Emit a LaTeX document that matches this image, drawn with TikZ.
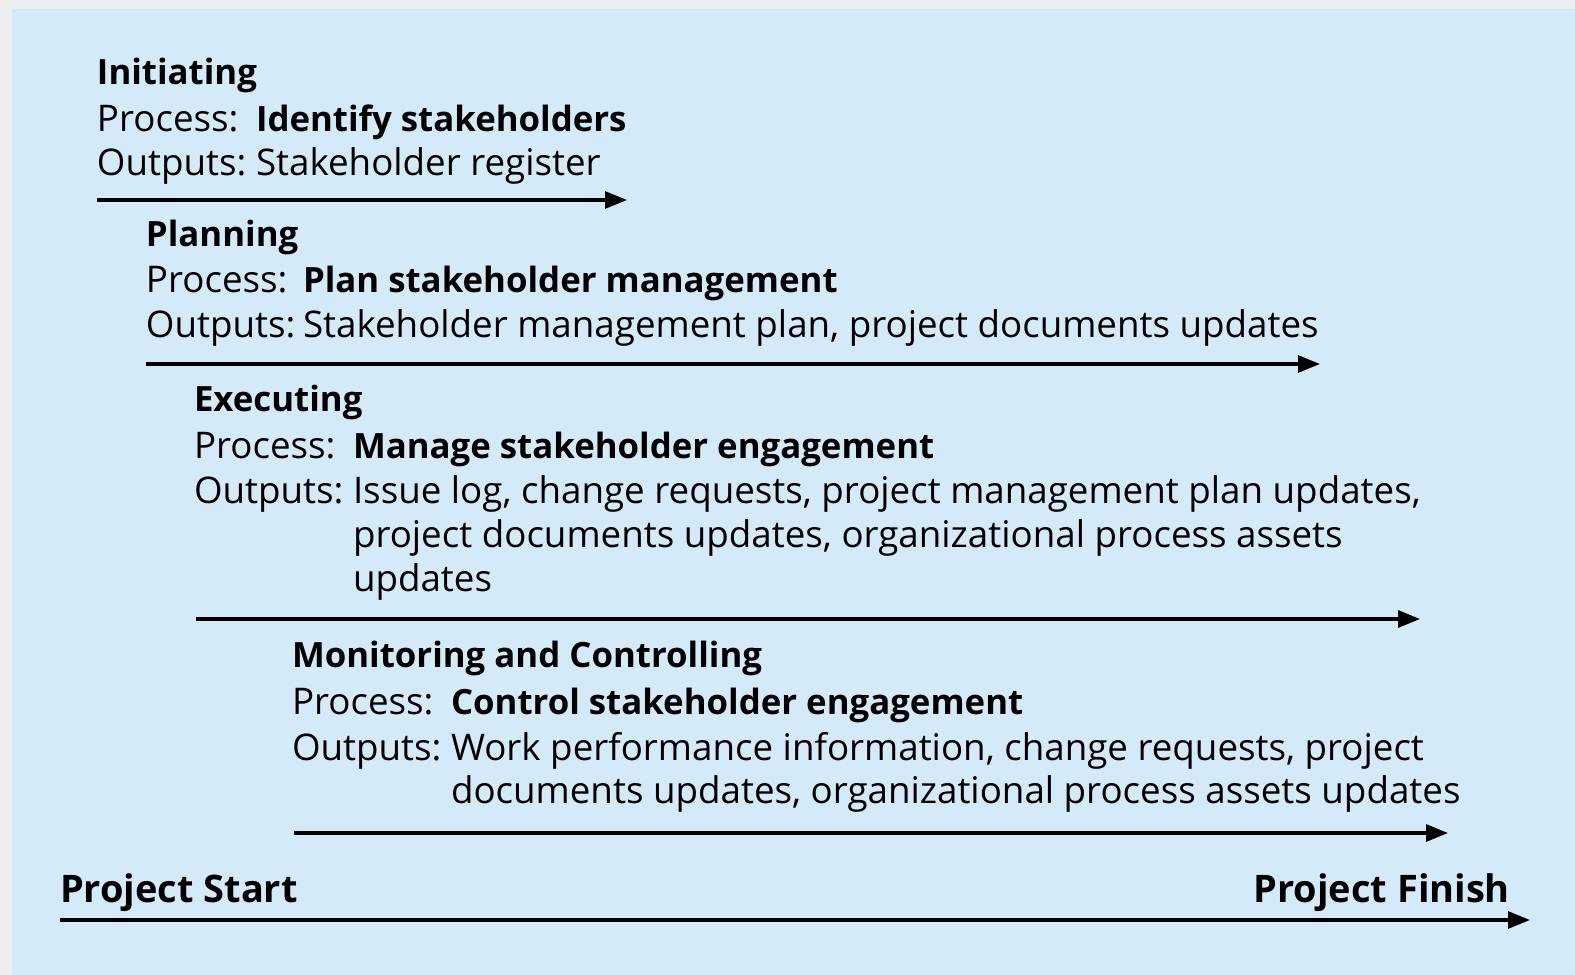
\documentclass[tikz,border=0pt]{standalone}
\usepackage{fontspec}
\setmainfont{Open Sans}
\usepackage{tikz}
\usetikzlibrary{arrows.meta}
\definecolor{panelblue}{RGB}{213,234,248}
\definecolor{edgegray}{RGB}{236,238,240}

\begin{document}
\begin{tikzpicture}[every node/.style={anchor=base west, inner sep=0pt, outer sep=0pt, font=\fontsize{10.45}{12}\selectfont},
  phase/.style={font=\fontsize{9.9}{12}\selectfont\bfseries},
  ends/.style={font=\fontsize{10.8}{13}\selectfont\bfseries},
  timeline/.style={line width=0.9pt, -{Triangle[length=0.22cm,width=0.17cm]}}]
\useasboundingbox (0,0) rectangle (15.75,9.75);
\fill[edgegray] (0,0) rectangle (15.75,9.75);
\fill[panelblue] (0.12,0) rectangle (15.75,9.66);

% initiating
\node[phase] (ini) at (0.97,8.90) {Initiating};
\node (ini-p) at (0.97,8.43) {Process:};
\node[phase] (ini-pv) at (2.56,8.43) {Identify stakeholders};
\node (ini-o) at (0.97,7.99) {Outputs:};
\node (ini-ov) at (2.56,7.99) {Stakeholder register};
\coordinate (ini-s) at (0.97,7.75);
\coordinate (ini-e) at (6.27,7.75);
\draw[timeline] (ini-s) -- (ini-e);

% planning
\node[phase] (pla) at (1.46,7.28) {Planning};
\node (pla-p) at (1.46,6.82) {Process:};
\node[phase] (pla-pv) at (3.03,6.82) {Plan stakeholder management};
\node (pla-o) at (1.46,6.37) {Outputs:};
\node (pla-ov) at (3.03,6.37) {Stakeholder management plan, project documents updates};
\coordinate (pla-s) at (1.46,6.11);
\coordinate (pla-e) at (13.20,6.11);
\draw[timeline] (pla-s) -- (pla-e);

% executing
\node[phase] (exe) at (1.94,5.63) {Executing};
\node (exe-p) at (1.94,5.16) {Process:};
\node[phase] (exe-pv) at (3.53,5.16) {Manage stakeholder engagement};
\node (exe-o) at (1.94,4.71) {Outputs:};
\node (exe-o1) at (3.53,4.71) {Issue log, change requests, project management plan updates,};
\node (exe-o2) at (3.53,4.27) {project documents updates, organizational process assets};
\node (exe-o3) at (3.53,3.83) {updates};
\coordinate (exe-s) at (1.96,3.56);
\coordinate (exe-e) at (14.20,3.56);
\draw[timeline] (exe-s) -- (exe-e);

% monitoring and controlling
\node[phase] (mon) at (2.92,3.07) {Monitoring and Controlling};
\node (mon-p) at (2.92,2.60) {Process:};
\node[phase] (mon-pv) at (4.51,2.60) {Control stakeholder engagement};
\node (mon-o) at (2.92,2.15) {Outputs:};
\node (mon-o1) at (4.51,2.15) {Work performance information, change requests, project};
\node (mon-o2) at (4.51,1.71) {documents updates, organizational process assets updates};
\coordinate (mon-s) at (2.94,1.42);
\coordinate (mon-e) at (14.48,1.42);
\draw[timeline] (mon-s) -- (mon-e);

% project span
\node[ends] (start) at (0.60,0.72) {Project Start};
\node[ends, anchor=base east] (finish) at (15.10,0.72) {Project Finish};
\coordinate (span-s) at (0.60,0.55);
\coordinate (span-e) at (15.30,0.55);
\draw[timeline] (span-s) -- (span-e);
\end{tikzpicture}
\end{document}
